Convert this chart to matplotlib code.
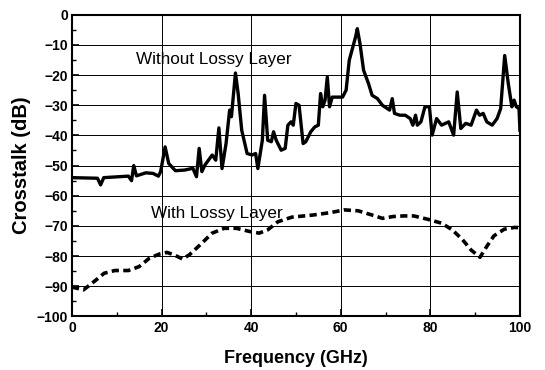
import matplotlib
matplotlib.use('Agg')
import matplotlib.pyplot as plt
from matplotlib.ticker import MultipleLocator

# without lossy layer (solid)
freq_without = [0, 5.7, 6.4, 7.1, 12.6, 13.3, 13.8, 14.4, 16.5, 18.1, 19.3, 19.8, 20.8, 21.6, 23.1,
                25.1, 27, 27.8, 28.4, 29, 29.7, 31.3, 32.1, 32.8, 33.5, 34.4, 35.2, 35.6, 36.5,
                37.1, 37.9, 39.1, 40.2, 41, 41.5, 42.5, 43, 43.7, 44.5, 45, 45.6, 46.7, 47.6,
                48.2, 48.9, 49.4, 50, 50.7, 51.6, 52.2, 53.3, 54.2, 55, 55.5, 56, 56.5, 57, 57.5,
                58.1, 59.2, 60.4, 61.2, 61.9, 62.7, 63.3, 63.7, 64.3, 65.1, 66.2, 67, 68.2, 69.3,
                70.9, 71.5, 72, 73.2, 74.4, 75.5, 76.1, 76.7, 77.1, 77.9, 78.8, 79.8, 80.4, 81.4,
                82.5, 84.1, 85.2, 86, 86.8, 87.9, 89.1, 90.3, 91, 91.8, 92.6, 93.8, 94.9, 95.7,
                96.6, 97.4, 98.2, 98.7, 99.2, 99.8, 100]
xt_without = [-54.0, -54.2, -56.4, -54, -53.5, -55, -50, -53.4, -52.4, -52.6, -53.5, -52, -43.8,
              -49.3, -51.7, -51.5, -50.9, -53.7, -44.3, -52, -49.8, -46.5, -48.2, -37.5, -51,
              -42.7, -31.6, -33.8, -19.3, -26.1, -38.3, -46, -46.5, -46, -51, -41.6, -26.7,
              -41.6, -42.1, -38.8, -41.6, -44.9, -44.3, -36.6, -35.5, -36.6, -29.4, -30, -42.7,
              -42.1, -38.8, -37.2, -36.6, -26.1, -30.5, -28.3, -20.6, -30.5, -27.3, -27.3,
              -27.3, -25, -15.1, -10.7, -7.4, -4.6, -9.6, -18.4, -22.8, -26.7, -27.8, -30,
              -31.6, -27.8, -32.7, -33.3, -33.3, -34.4, -36.6, -33.3, -36.6, -35.5, -30.5,
              -30.5, -39.9, -34.4, -36.6, -35.5, -39.9, -25.6, -37.7, -36, -36.6, -31.6, -33.3,
              -32.7, -35.5, -36.6, -34.4, -31.1, -13.5, -22.8, -30.5, -28.3, -30.5, -31.1, -38.3]

# with lossy layer (dashed)
freq_with = [0, 2.6, 5, 7.2, 9.6, 12.6, 15, 17.3, 19.6, 21.2, 22.8, 24.7, 26.2, 28.6, 31.3, 34,
             36.7, 39.8, 41.8, 43.7, 46, 49.1, 53.8, 57.7, 60.8, 63.9, 67, 69.3, 71.7, 74, 76.3,
             79.4, 82.5, 84.9, 87.2, 89.1, 91.1, 92.6, 94.2, 96.5, 98.8, 100]
xt_with = [-90.3, -91.2, -88.4, -85.7, -84.8, -84.8, -83.5, -80.7, -79.3, -78.8, -79.6, -81,
           -79.6, -76.3, -72.4, -70.8, -70.8, -71.9, -72.4, -71.3, -68.6, -67.1, -66.4, -65.6,
           -64.7, -65, -66.4, -67.5, -66.9, -66.7, -66.7, -67.8, -69.1, -71.3, -74.6, -78,
           -80.4, -76.8, -73.3, -71.1, -70.5, -70.6]

plt.rcParams['font.family'] = ['Liberation Sans', 'DejaVu Sans']

fig = plt.figure(figsize=(5.45, 3.7), dpi=100)
ax = fig.add_axes([0.132, 0.145, 0.822, 0.815])

ax.plot(freq_without, xt_without, color='black', linewidth=2.4)
ax.plot(freq_with, xt_with, color='black', linewidth=2.6, linestyle=(0, (2.0, 1.2)))

ax.text(14.2, -14.8, 'Without Lossy Layer', fontsize=12.3, va='center')
ax.text(17.6, -65.8, 'With Lossy Layer', fontsize=12.3, va='center')

ax.set_xlim(0, 100)
ax.set_ylim(-100, 0)
ax.xaxis.set_major_locator(MultipleLocator(20))
ax.xaxis.set_minor_locator(MultipleLocator(10))
ax.yaxis.set_major_locator(MultipleLocator(10))
ax.yaxis.set_minor_locator(MultipleLocator(5))
ax.tick_params(which='both', direction='in', top=False, right=False)
ax.tick_params(which='major', length=5, width=1.2, labelsize=10, pad=3)
ax.tick_params(which='minor', length=3, width=1)
for lbl in ax.get_xticklabels() + ax.get_yticklabels():
    lbl.set_fontweight('bold')
ax.grid(True, which='major', color='black', linewidth=0.7)
for sp in ax.spines.values():
    sp.set_linewidth(1.5)

ax.set_xlabel('Frequency (GHz)', fontsize=13, fontweight='bold', labelpad=11)
ax.set_ylabel('Crosstalk (dB)', fontsize=14.5, fontweight='bold', labelpad=4)

fig.savefig('out.png', dpi=100)
